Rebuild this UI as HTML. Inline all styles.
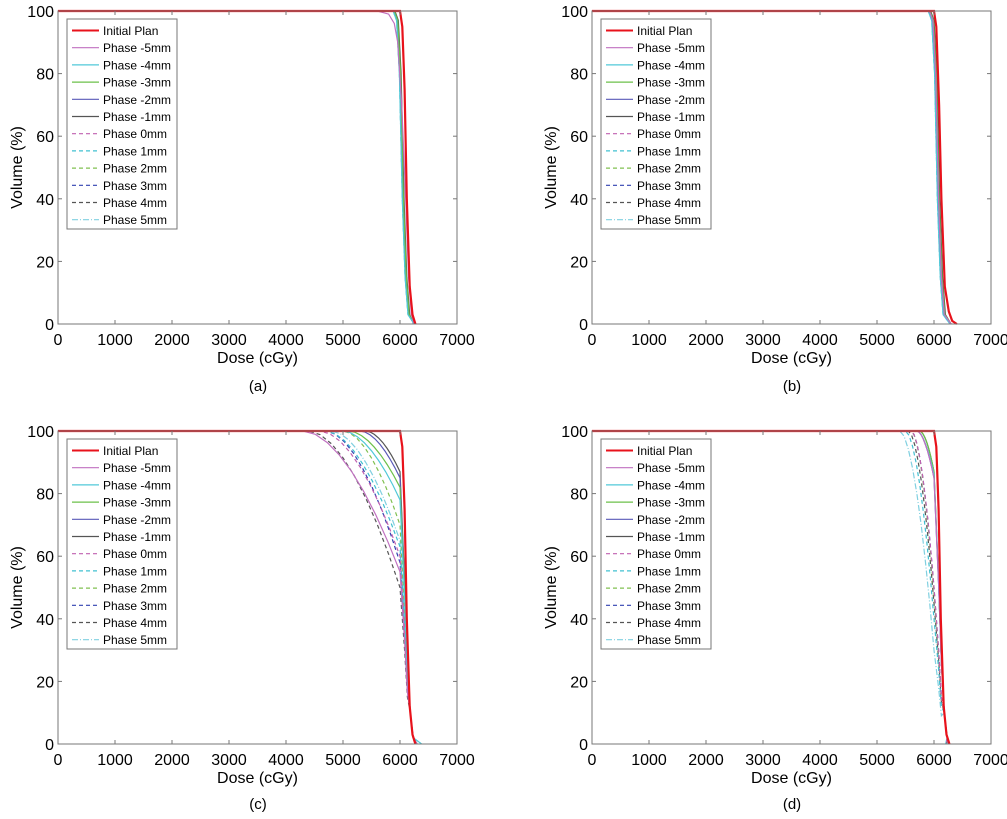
<!DOCTYPE html>
<html><head><meta charset="utf-8"><style>
body{margin:0;background:#fff;width:1007px;height:814px;overflow:hidden}
svg{font-family:"Liberation Sans",Arial,sans-serif}
</style></head><body>
<svg id="s" width="1007" height="814" xmlns="http://www.w3.org/2000/svg">
<g id="pa" transform="translate(58,11)"></g>
<g id="pb" transform="translate(592,11)"></g>
<g id="pc" transform="translate(58,431)"></g>
<g id="pd" transform="translate(592,431)"></g>
<g font-size="15" fill="#000" text-anchor="middle">
<text x="258" y="391">(a)</text><text x="792" y="391">(b)</text>
<text x="258" y="809">(c)</text><text x="792" y="809">(d)</text>
</g>
</svg>
<script>
const W=399,H=313,NS="http://www.w3.org/2000/svg";
const names=["Initial Plan","Phase -5mm","Phase -4mm","Phase -3mm","Phase -2mm","Phase -1mm","Phase 0mm","Phase 1mm","Phase 2mm","Phase 3mm","Phase 4mm","Phase 5mm"];
const cols=["#e8121b","#c070c0","#50c8d8","#6cc04a","#5a5ab8","#555555","#c060b0","#40c0d0","#80c050","#3040b0","#555555","#80d0e0"];
const dash=[null,null,null,null,null,null,"4,3","4,3","4,3","4,3","4,3","6,2,1,2"];
function X(d){return d/7000*W} function Y(v){return H-v/100*H}
function el(t,a,p,txt){const e=document.createElementNS(NS,t);for(const k in a)e.setAttribute(k,a[k]);if(txt!=null)e.textContent=txt;p.appendChild(e);return e}
function tail(s,e){return [[s,100],[s+60,97],[s+110,80],[s+160,40],[s+210,15],[s+260,3],[e,0]]}
function early(a,b,m){
 const pts=[[0,100],[a,100]];const n=8;for(let i=1;i<=n;i++){const d=a+(6000-a)*i/n;const t=i/n;pts.push([d,100-(100-m)*Math.pow(t,1.8)])}
 pts.push([6080,m*0.6],[6130,m*0.3],[6180,10],[6230,2],[b,0]);return pts}
const R=[[0,100],[6000,100],[6040,95],[6080,75],[6120,40],[6170,12],[6220,3],[6270,0]];
function base(s,e){return [[0,100]].concat(tail(s,e))}
const data={
pa:[R,[[0,100],[5600,100],[5800,99],[5900,96],[5960,90],[6030,70],[6100,40],[6150,15],[6200,3],[6250,0]],
 base(5880,6250),base(5900,6250),base(5890,6250),base(5910,6240),base(5900,6250),base(5880,6250),base(5900,6240),base(5890,6250),base(5900,6250),base(5880,6240)],
pb:[[[0,100],[6000,100],[6040,95],[6090,70],[6130,40],[6190,12],[6260,4],[6320,1],[6400,0]],
 base(5920,6300),base(5900,6280),base(5930,6300),base(5910,6290),base(5940,6300),base(5920,6290),base(5900,6280),base(5930,6300),base(5910,6290),base(5920,6300),base(5900,6290)],
pc:[R,early(4300,6300,55),early(5000,6380,78),early(5100,6300,82),early(5300,6300,85),early(5400,6300,87),early(4600,6300,60),early(4700,6300,63),early(5000,6300,70),early(4700,6300,58),early(4400,6300,50),early(4800,6380,65)],
pd:[R,early(5700,6250,85),early(5700,6250,86),early(5750,6250,87),early(5700,6250,85),early(5750,6250,87),early(5600,6220,50),early(5500,6220,40),early(5600,6220,48),early(5600,6220,50),early(5550,6220,45),early(5400,6200,30)]
};
for(const id of ["pa","pb","pc","pd"]){
 const g=document.getElementById(id);
 el("rect",{x:0,y:0,width:W,height:H,fill:"#fff",stroke:"none"},g);
 data[id].slice().reverse().forEach((pts,ri)=>{const i=11-ri;
  const d=pts.map((p,k)=>(k?"L":"M")+X(p[0]).toFixed(1)+","+Y(p[1]).toFixed(1)).join("");
  const a={d:d,fill:"none",stroke:cols[i],"stroke-width":i==0?2.2:1.2};if(dash[i])a["stroke-dasharray"]=dash[i];el("path",a,g)});
 el("rect",{x:0,y:0,width:W,height:H,fill:"none",stroke:"#777","stroke-width":1},g);
 for(let k=0;k<=7;k++){const x=X(k*1000);el("line",{x1:x,y1:H,x2:x,y2:H-4,stroke:"#777"},g);el("line",{x1:x,y1:0,x2:x,y2:4,stroke:"#777"},g);
  el("text",{x:x,y:H+21,"font-size":16,"text-anchor":"middle"},g,String(k*1000))}
 for(let k=0;k<=5;k++){const y=Y(k*20);el("line",{x1:0,y1:y,x2:4,y2:y,stroke:"#777"},g);el("line",{x1:W,y1:y,x2:W-4,y2:y,stroke:"#777"},g);
  el("text",{x:-4,y:y+6,"font-size":16,"text-anchor":"end"},g,String(k*20))}
 el("text",{x:W/2,y:H+39,"font-size":16,"text-anchor":"middle"},g,"Dose (cGy)");
 el("text",{x:0,y:0,"font-size":16,"text-anchor":"middle",transform:`translate(-36,${H/2}) rotate(-90)`},g,"Volume (%)");
 el("rect",{x:9,y:8,width:110,height:210,fill:"#fff",stroke:"#777"},g);
 names.forEach((n,i)=>{const y=19.5+i*17.2;const a={x1:14,y1:y,x2:41,y2:y,stroke:cols[i],"stroke-width":i==0?2:1.2};if(dash[i])a["stroke-dasharray"]=dash[i];el("line",a,g);
  el("text",{x:45,y:y+4.5,"font-size":12},g,n)});
}
</script>
</body></html>
